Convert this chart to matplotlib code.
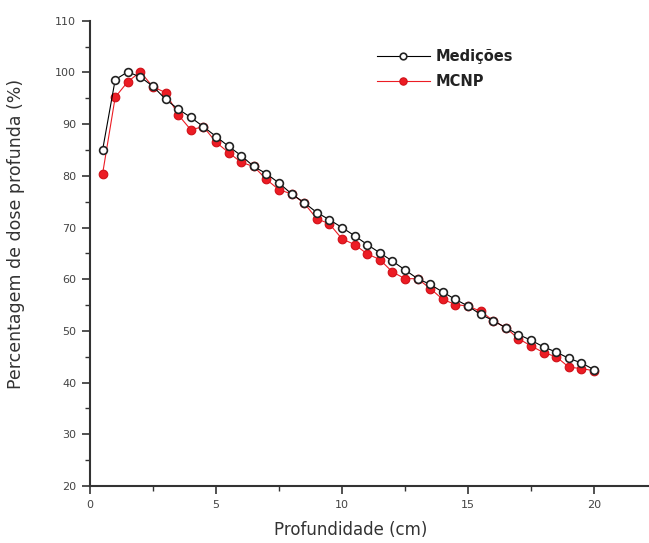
import matplotlib
matplotlib.use("Agg")
import matplotlib.pyplot as plt
from matplotlib.ticker import MultipleLocator

# Data
depth = [0.5, 1.0, 1.5, 2.0, 2.5, 3.0, 3.5, 4.0, 4.5, 5.0,
         5.5, 6.0, 6.5, 7.0, 7.5, 8.0, 8.5, 9.0, 9.5, 10.0,
         10.5, 11.0, 11.5, 12.0, 12.5, 13.0, 13.5, 14.0, 14.5, 15.0,
         15.5, 16.0, 16.5, 17.0, 17.5, 18.0, 18.5, 19.0, 19.5, 20.0]

medicoes = [85.0, 98.6, 100.1, 99.1, 97.3, 94.8, 92.9, 91.3, 89.5, 87.6,
            85.7, 83.9, 81.8, 80.4, 78.6, 76.5, 74.8, 72.9, 71.5, 70.0,
            68.4, 66.7, 65.1, 63.5, 61.8, 60.1, 59.0, 57.5, 56.1, 54.8,
            53.2, 52.0, 50.6, 49.3, 48.2, 46.9, 45.9, 44.7, 43.8, 42.5]

mcnp = [80.4, 95.2, 98.2, 100.1, 97.2, 96.1, 91.8, 88.9, 89.5, 86.5,
        84.5, 82.6, 81.8, 79.3, 77.3, 76.5, 74.7, 71.7, 70.7, 67.8,
        66.7, 64.9, 63.8, 61.4, 60.1, 60.1, 58.2, 56.1, 55.1, 54.8,
        53.8, 52.0, 50.6, 48.5, 47.1, 45.8, 45.0, 43.0, 42.7, 42.3]

label_med = "Medições"
label_mcnp = "MCNP"
xlabel = "Profundidade (cm)"
ylabel = "Percentagem de dose profunda (%)"
xticks = [0, 5, 10, 15, 20]
yticks = [20, 30, 40, 50, 60, 70, 80, 90, 100, 110]

W, H = 649, 543
fig = plt.figure(figsize=(W / 100, H / 100), dpi=100)
ax = fig.add_axes([90 / W, 57 / H, 559 / W, (486 - 20.7) / H])

red = "#ec1c24"
l2, = ax.plot(depth, mcnp, color=red, lw=0.8, marker="o", ms=6.2,
              mfc=red, mec="#d01018", mew=0.8, zorder=3, label=label_mcnp)
l1, = ax.plot(depth, medicoes, color="black", lw=0.8, marker="o", ms=5.6,
              mfc="white", mec="#222222", mew=1.2, zorder=4, label=label_med)

ax.set_xlim(0, 559 / 25.2)
ax.set_ylim(20, 110)
ax.set_xticks(xticks)
ax.set_yticks(yticks)
ax.xaxis.set_minor_locator(MultipleLocator(2.5))
ax.yaxis.set_minor_locator(MultipleLocator(5))

for s in ["top", "right"]:
    ax.spines[s].set_visible(False)
for s in ["left", "bottom"]:
    ax.spines[s].set_linewidth(1.5)
    ax.spines[s].set_color("#333333")

ax.tick_params(which="major", direction="out", length=6, width=1.2,
               colors="#333333", labelsize=8, labelcolor="#444444", pad=4)
ax.tick_params(which="minor", direction="out", length=3.5, width=1.0,
               colors="#333333")

ax.set_xlabel(xlabel, fontsize=12, color="#333333")
ax.set_ylabel(ylabel, fontsize=12.5, color="#333333")
ax.xaxis.set_label_coords((351 - 90) / 559, -(521 - 486) / (486 - 20.7))
ax.yaxis.set_label_coords(-(90 - 25) / 559, (486 - 234) / (486 - 20.7))

leg = ax.legend(handles=[l1, l2], loc="upper left",
                bbox_to_anchor=(377 / W, 1 - 49 / H),
                bbox_transform=fig.transFigure, frameon=False,
                prop={"weight": "bold", "size": 10.5},
                handlelength=3.6, handletextpad=0.45, labelspacing=0.7,
                borderpad=0, borderaxespad=0, markerscale=0.85)
for t in leg.get_texts():
    t.set_color("#222222")

fig.savefig("out.png", dpi=100)
